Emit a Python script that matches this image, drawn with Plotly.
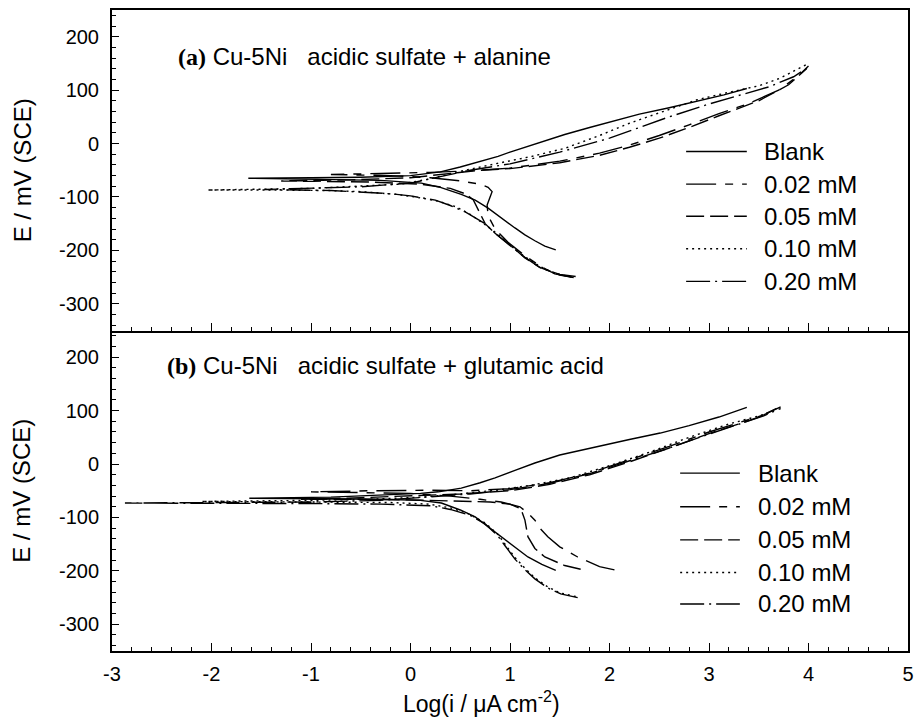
import plotly.graph_objects as go
from plotly.subplots import make_subplots

# ---------------- data ----------------
series_names = ["Blank", "0.02 mM", "0.05 mM", "0.10 mM", "0.20 mM"]

# Panel (a): Cu-5Ni acidic sulfate + alanine  (cathodic end -> leftmost -> anodic end)
a_blank_x = [1.46, 1.35, 1.25, 1.15, 1.05, 0.92, 0.78, 0.65, 0.51, 0.3, 0.11, -0.3, -0.8, -1.63,
             -1.0, -0.5, 0.0, 0.3, 0.5, 0.68, 0.88, 1.0, 1.2, 1.35, 1.55, 1.8, 2.0, 2.3, 2.6, 2.9, 3.15, 3.38]
a_blank_y = [-199, -192, -182, -171, -158, -140, -121, -106, -95, -82, -74, -69, -67, -65,
             -64, -63, -60, -53, -44, -35, -24, -16, -4, 5, 17, 30, 40, 55, 67, 80, 91, 103]

a_002_x = [1.62, 1.45, 1.31, 1.15, 0.98, 0.85, 0.78, 0.77, 0.8, 0.82, 0.78, 0.7, 0.5, 0.2, -0.2, -0.8,
           -0.3, 0.2, 0.6, 1.0, 1.5, 1.9, 2.2, 2.5, 2.8, 3.1, 3.4, 3.7, 3.9, 4.0]
a_002_y = [-250, -244, -230, -210, -185, -160, -135, -115, -100, -90, -82, -76, -70, -64, -60, -58,
           -56, -54, -51, -46, -33, -18, -3, 15, 35, 56, 75, 100, 127, 145]

a_005_x = [1.64, 1.5, 1.3, 1.15, 1.0, 0.85, 0.75, 0.68, 0.63, 0.55, 0.4, 0.1, -0.4, -1.3,
           -0.6, 0.0, 0.4, 0.7, 1.0, 1.5, 1.9, 2.2, 2.5, 2.8, 3.1, 3.5, 3.8, 3.98]
a_005_y = [-251, -246, -232, -214, -190, -168, -150, -123, -105, -94, -84, -76, -72, -70,
           -68, -64, -56, -50, -47, -36, -22, -7, 10, 30, 52, 80, 110, 140]

a_010_x = [1.62, 1.45, 1.3, 1.15, 1.0, 0.88, 0.75, 0.58, 0.45, 0.28, 0.05, -0.15, -0.5, -0.82, -1.4, -2.04,
           -1.0, -0.5, -0.1, 0.2, 0.5, 0.8, 1.0, 1.22, 1.55, 1.9, 2.2, 2.5, 2.88, 3.2, 3.5, 3.71, 4.0]
a_010_y = [-250, -243, -230, -212, -190, -170, -152, -130, -118, -108, -100, -95, -90, -88, -87, -87,
           -84, -80, -76, -66, -52, -40, -33, -24, -9, 15, 38, 58, 82, 96, 108, 122, 150]

a_020_x = [1.66, 1.5, 1.31, 1.15, 0.98, 0.85, 0.75, 0.55, 0.4, 0.25, 0.0, -0.2, -0.8, -1.47,
           -0.5, 0.0, 0.3, 0.6, 1.0, 1.5, 2.0, 2.3, 2.6, 3.0, 3.3, 3.6, 3.85, 4.0]
a_020_y = [-249, -245, -233, -213, -188, -168, -150, -128, -116, -106, -98, -94, -88, -86,
           -81, -74, -62, -50, -38, -16, 10, 30, 50, 74, 90, 106, 125, 143]

# Panel (b): Cu-5Ni acidic sulfate + glutamic acid
b_blank_x = [1.46, 1.32, 1.18, 1.05, 0.91, 0.78, 0.65, 0.5, 0.31, 0.1, -0.3, -0.9, -1.62,
             -0.8, -0.2, 0.1, 0.28, 0.51, 0.7, 0.85, 1.05, 1.25, 1.5, 1.85, 2.2, 2.51, 2.8, 3.1, 3.38]
b_blank_y = [-199, -188, -174, -156, -136, -117, -99, -86, -73, -68, -66, -65, -64,
             -62, -58, -55, -52, -45, -35, -26, -12, 2, 17, 32, 46, 58, 72, 88, 106]

b_002_x = [2.05, 1.9, 1.68, 1.5, 1.38, 1.3, 1.25, 1.18, 1.1, 0.91, 0.7, 0.4, 0.0, -0.5, -1.0,
           -0.4, 0.2, 0.6, 1.0, 1.4, 1.8, 2.2, 2.6, 3.0, 3.3, 3.55, 3.72]
b_002_y = [-198, -192, -174, -155, -136, -120, -105, -92, -80, -71, -66, -60, -55, -53, -52,
           -50, -49, -50, -46, -35, -17, 8, 33, 60, 78, 92, 107]

b_005_x = [1.71, 1.55, 1.35, 1.25, 1.18, 1.15, 1.11, 1.0, 0.8, 0.5, 0.0, -0.5, -1.1,
           -0.5, 0.0, 0.5, 1.0, 1.4, 1.8, 2.2, 2.6, 3.0, 3.3, 3.5, 3.68]
b_005_y = [-197, -190, -174, -158, -136, -105, -84, -75, -71, -69, -67, -66, -66,
           -63, -60, -56, -50, -38, -20, 4, 30, 57, 75, 88, 104]

b_010_x = [1.66, 1.5, 1.38, 1.25, 1.15, 1.05, 0.95, 0.88, 0.75, 0.58, 0.4, 0.18, -0.2, -0.8, -2.1,
           -1.0, -0.4, 0.1, 0.5, 0.9, 1.2, 1.6, 2.0, 2.4, 2.8, 3.2, 3.5, 3.65]
b_010_y = [-248, -241, -230, -213, -195, -175, -150, -132, -110, -93, -82, -75, -72, -71, -70,
           -68, -66, -62, -56, -48, -40, -26, -3, 22, 50, 75, 90, 99]

b_020_x = [1.68, 1.51, 1.38, 1.25, 1.15, 1.05, 0.95, 0.88, 0.75, 0.6, 0.4, 0.2, -0.3, -1.0, -2.87,
           -2.0, -1.0, -0.3, 0.2, 0.6, 1.0, 1.4, 1.8, 2.2, 2.6, 3.0, 3.3, 3.55, 3.72]
b_020_y = [-250, -243, -232, -215, -198, -178, -153, -135, -112, -96, -85, -78, -75, -74, -73,
           -72, -71, -68, -62, -56, -48, -36, -18, 6, 30, 56, 75, 90, 104]

x_ticks = [-3, -2, -1, 0, 1, 2, 3, 4, 5]
y_ticks = [-300, -200, -100, 0, 100, 200]
x_ticktext = [str(v) for v in x_ticks]
y_ticktext = [str(v) for v in y_ticks]

panel_a_title = "Cu-5Ni\u00a0\u00a0\u00a0acidic sulfate + alanine"
panel_b_title = "Cu-5Ni\u00a0\u00a0\u00a0acidic sulfate + glutamic acid"

# ---------------- styles ----------------
dashes = ["solid", "30px,9px,8px,9px", "18px,6px", "2px,4px", "24px,5px,2px,5px"]
LW = 1.4
FONT = "Liberation Sans, Arial"

fig = make_subplots(rows=2, cols=1, shared_xaxes=True, vertical_spacing=0)

panels = [
    (1, [(a_blank_x, a_blank_y), (a_002_x, a_002_y), (a_005_x, a_005_y), (a_010_x, a_010_y), (a_020_x, a_020_y)]),
    (2, [(b_blank_x, b_blank_y), (b_002_x, b_002_y), (b_005_x, b_005_y), (b_010_x, b_010_y), (b_020_x, b_020_y)]),
]
for row, data in panels:
    for name, (xs, ys), d in zip(series_names, data, dashes):
        fig.add_trace(go.Scatter(x=xs, y=ys, mode="lines", name=name, showlegend=False,
                                 line=dict(color="black", width=LW, dash=d)), row=row, col=1)

axis_common = dict(showline=True, linewidth=2, linecolor="black",
                   showgrid=False, zeroline=False, ticks="inside", tickcolor="black",
                   tickwidth=1.3, tickfont=dict(family=FONT, size=20, color="black"))
for row in (1, 2):
    fig.update_xaxes(range=[-3, 5], tickvals=x_ticks, ticktext=x_ticktext, ticklen=8,
                     minor=dict(dtick=0.2, ticks="inside", ticklen=4, tickcolor="black", tickwidth=1),
                     showticklabels=(row == 2), mirror=(row == 1), ticklabelstandoff=4,
                     row=row, col=1, **axis_common)
    fig.update_yaxes(range=[-350, 250], tickvals=y_ticks, ticktext=y_ticktext, ticklen=7,
                     minor=dict(dtick=20, ticks="inside", ticklen=4, tickcolor="black", tickwidth=1),
                     ticklabelstandoff=7, mirror=True, row=row, col=1, **axis_common)

# legends drawn as key lines + labels, per panel (positions in data units of each panel)
legend_specs = [
    ("x", "y", 2.77, 3.38, 3.53, [-15, -76, -136, -197, -258]),
    ("x2", "y2", 2.71, 3.31, 3.47, [-17, -80, -142, -203, -262]),
]
for xr, yr, x0, x1, xt, rows in legend_specs:
    for name, d, yv in zip(series_names, dashes, rows):
        fig.add_shape(type="line", xref=xr, yref=yr, x0=x0, x1=x1, y0=yv, y1=yv,
                      line=dict(color="black", width=LW, dash=d))
        fig.add_annotation(xref=xr, yref=yr, x=xt, y=yv, text=name, showarrow=False,
                           xanchor="left", yanchor="middle",
                           font=dict(family=FONT, size=24, color="black"))

# panel titles
for lab, ttl, px, py in [("(a)", panel_a_title, 0.081, 0.928), ("(b)", panel_b_title, 0.066, 0.445)]:
    fig.add_annotation(xref="paper", yref="paper", x=px, y=py, showarrow=False,
                       xanchor="left", yanchor="middle",
                       text=f"<span style='font-family:Liberation Serif;font-weight:bold'>{lab}</span> {ttl}",
                       font=dict(family=FONT, size=24, color="black"))

# axis titles
for py in (0.750, 0.250):
    fig.add_annotation(xref="paper", yref="paper", x=-0.113, y=py, showarrow=False,
                       text="E / mV (SCE)", textangle=-90, xanchor="center", yanchor="middle",
                       font=dict(family=FONT, size=24, color="black"))
fig.add_annotation(xref="paper", yref="paper", x=0.464, y=-0.08, showarrow=False,
                   text="Log(i / \u03bcA cm<sup>-2</sup>)", xanchor="center", yanchor="middle",
                   font=dict(family=FONT, size=23, color="black"))

fig.update_layout(width=922, height=720, margin=dict(l=112, r=9, t=8, b=69),
                  paper_bgcolor="white", plot_bgcolor="white", showlegend=False)

fig.write_html("out.html", config={"displayModeBar": False},
               post_script="document.body.style.margin='0px';document.body.style.overflow='hidden';")
